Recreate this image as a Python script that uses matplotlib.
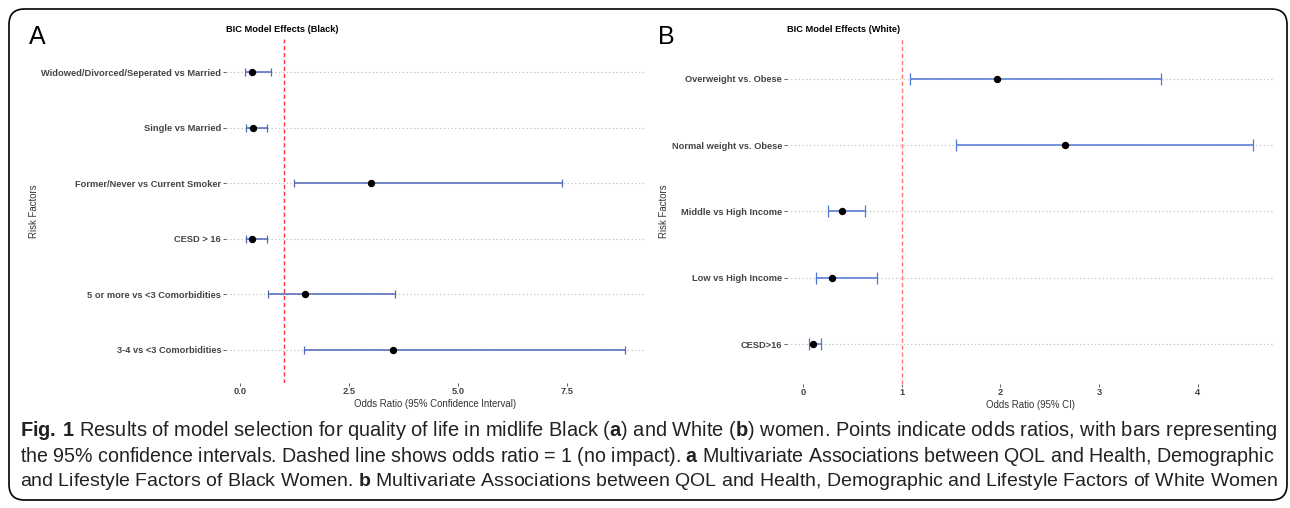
import matplotlib
matplotlib.use("Agg")
import matplotlib.pyplot as plt
from matplotlib.patches import FancyBboxPatch
import numpy as np

# Panel A - Black women
facteurs_a = ["Widowed/Divorced/Seperated vs Married", "Single vs Married",
              "Former/Never vs Current Smoker", "CESD > 16",
              "5 or more vs <3 Comorbidities", "3-4 vs <3 Comorbidities"]
or_a = [0.27, 0.30, 3.00, 0.28, 1.49, 3.51]
bas_a = [0.11, 0.14, 1.24, 0.14, 0.64, 1.47]
haut_a = [0.71, 0.62, 7.39, 0.62, 3.56, 8.83]
ticks_a = [0.0, 2.5, 5.0, 7.5]
ticklabels_a = ["0.0", "2.5", "5.0", "7.5"]

# Panel B - White women
facteurs_b = ["Overweight vs. Obese", "Normal weight vs. Obese",
              "Middle vs High Income", "Low vs High Income", "CESD>16"]
or_b = [1.97, 2.65, 0.39, 0.29, 0.10]
bas_b = [1.08, 1.55, 0.25, 0.13, 0.06]
haut_b = [3.63, 4.56, 0.63, 0.75, 0.18]
ticks_b = [0, 1, 2, 3, 4]
ticklabels_b = ["0", "1", "2", "3", "4"]

W, H = 1290, 508
plt.rcParams['font.family'] = ['Liberation Sans', 'DejaVu Sans']
plt.rcParams['mathtext.fontset'] = 'custom'
plt.rcParams['mathtext.rm'] = 'Liberation Sans'
plt.rcParams['mathtext.bf'] = 'Liberation Sans:bold'

fig = plt.figure(figsize=(W / 100, H / 100), dpi=100)


def px_axes(left, top, right, bottom):
    return fig.add_axes([left / W, 1 - bottom / H, (right - left) / W, (bottom - top) / H])


def forest(ax, noms, pts, bas, haut, ticks, ticklabels, titre, xlabel, couleur, capsize, alpha_rouge):
    y = np.arange(len(noms))
    pts = np.array(pts)
    bas = np.array(bas)
    haut = np.array(haut)
    ax.errorbar(pts, y, xerr=[pts - bas, haut - pts], fmt='none', ecolor=couleur,
                elinewidth=1.1, capsize=capsize, capthick=0.9, zorder=3)
    ax.plot(pts, y, 'o', color='black', markersize=4.3, zorder=4)
    ax.axvline(1, color='red', linestyle=(0, (3, 2)), linewidth=1.0, alpha=alpha_rouge, zorder=2)
    xmin, xmax = bas.min(), haut.max()
    ext = 0.05 * (xmax - xmin)
    ax.set_xlim(xmin - ext, xmax + ext)
    ax.set_ylim(len(noms) - 0.4, -0.6)
    ax.set_yticks(y)
    ax.set_yticklabels(noms, fontsize=6.7, fontweight='bold', color='#444444')
    ax.set_xticks(ticks)
    ax.set_xticklabels(ticklabels, fontsize=6.7, fontweight='bold', color='#444444')
    ax.tick_params(axis='y', length=2.5, width=0.6, color='#444444', pad=1)
    ax.tick_params(axis='x', length=2, width=0.6, color='#444444', pad=1)
    for s in ax.spines.values():
        s.set_visible(False)
    ax.grid(axis='y', linestyle=(0, (1, 2)), color='#c0c0c0', linewidth=0.9)
    ax.grid(axis='x', visible=False)
    ax.set_axisbelow(True)
    ax.set_title(titre, fontsize=6.7, fontweight='bold', loc='left', pad=5, color='black')
    ax.set_xlabel(xlabel, fontsize=6.9, color='#333333', labelpad=2)
    ax.set_ylabel("Risk Factors", fontsize=6.9, color='#333333')


ax_a = px_axes(226, 39, 644, 383)
forest(ax_a, facteurs_a, or_a, bas_a, haut_a, ticks_a, ticklabels_a,
       "BIC Model Effects (Black)", "Odds Ratio (95% Confidence Interval)", '#5068b8', 3.2, 0.8)
ax_a.yaxis.set_label_coords((39 - 226) / 418, 0.5)

ax_b = px_axes(787, 39, 1275, 384)
forest(ax_b, facteurs_b, or_b, bas_b, haut_b, ticks_b, ticklabels_b,
       "BIC Model Effects (White)", "Odds Ratio (95% CI)", '#4f76d6', 4.6, 0.55)
ax_b.yaxis.set_label_coords((669 - 787) / 488, 0.5)

# lettres des panneaux
fig.text(29 / W, 1 - 37 / H, "A", fontsize=18, va='center', ha='left')
fig.text(658 / W, 1 - 37 / H, "B", fontsize=18, va='center', ha='left')

# cadre arrondi
cadre = FancyBboxPatch((9 / W, 1 - 500 / H), (1287 - 9) / W, (500 - 9) / H,
                       boxstyle="round,pad=0,rounding_size=0.012",
                       transform=fig.transFigure, fill=False, edgecolor='black',
                       linewidth=1.2, mutation_aspect=W / H)
fig.add_artist(cadre)

# legende
lignes = [
    r"$\mathbf{Fig.\,1}$ Results of model selection for quality of life in midlife Black ($\mathbf{a}$) and White ($\mathbf{b}$) women. Points indicate odds ratios, with bars representing",
    r"the 95% confidence intervals. Dashed line shows odds ratio = 1 (no impact). $\mathbf{a}$ Multivariate Associations between QOL and Health, Demographic",
    r"and Lifestyle Factors of Black Women. $\mathbf{b}$ Multivariate Associations between QOL and Health, Demographic and Lifestyle Factors of White Women",
]
ys = [431, 456, 481]
renderer = fig.canvas.get_renderer()
for ligne, yy in zip(lignes, ys):
    t = fig.text(20 / W, 1 - yy / H, ligne, fontsize=12, va='center', ha='left',
                 family=['Liberation Sans', 'DejaVu Sans'], color='#222222')
    larg = t.get_window_extent(renderer).width
    t.set_fontsize(12 * (1275 - 20) / larg)

fig.savefig("out.png", dpi=100)
